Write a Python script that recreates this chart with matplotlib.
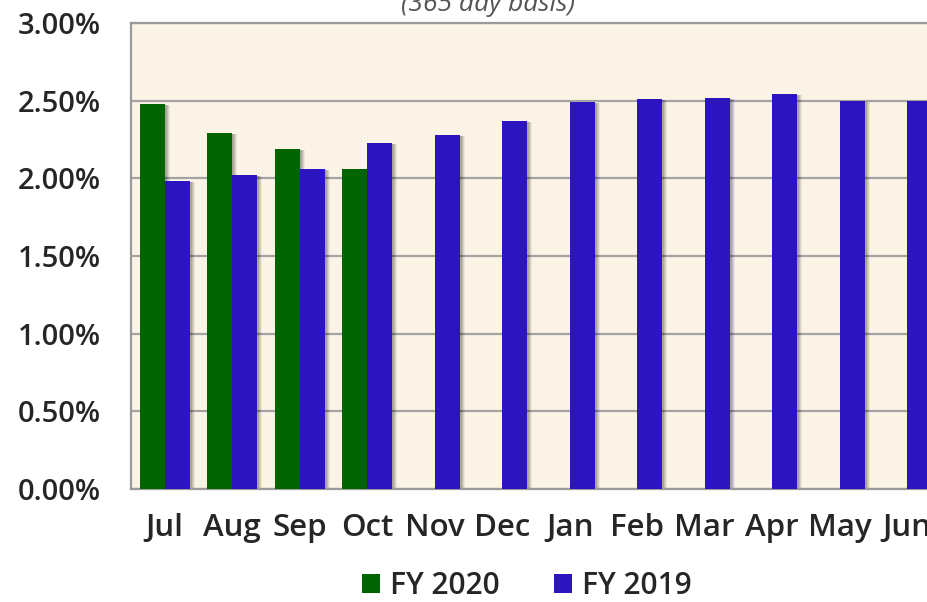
import matplotlib
matplotlib.use("Agg")
import matplotlib.pyplot as plt
import matplotlib.transforms as mtransforms
from matplotlib.patches import Patch
from matplotlib.ticker import FuncFormatter
import numpy as np

months = ["Jul", "Aug", "Sep", "Oct", "Nov", "Dec", "Jan", "Feb", "Mar", "Apr", "May", "Jun"]
fy2020 = [2.48, 2.29, 2.19, 2.06, None, None, None, None, None, None, None, None]
fy2019 = [1.98, 2.02, 2.06, 2.23, 2.28, 2.37, 2.49, 2.51, 2.52, 2.54, 2.50, 2.50]
yticks = [0.0, 0.5, 1.0, 1.5, 2.0, 2.5, 3.0]
subtitle = "(365 day basis)"
series_names = ["FY 2020", "FY 2019"]

GREEN = "#006400"
BLUE = "#2C14BE"
BG = "#FBF4E6"
TXT = "#262626"

plt.rcParams['font.family'] = ['Open Sans', 'DejaVu Sans']

W, H, DPI = 928, 602, 100
fig = plt.figure(figsize=(W / DPI, H / DPI), dpi=DPI)
# axes extends past the right edge (chart is cropped)
left, right, top, bottom = 131, 941, 23, 489
ax = fig.add_axes([left / W, 1 - bottom / H, (right - left) / W, (bottom - top) / H])
ax.set_facecolor(BG)

x = np.arange(len(months))
bw = 0.37
g_x = [xi - bw / 2 for xi, v in zip(x, fy2020) if v is not None]
g_v = [v for v in fy2020 if v is not None]
b_x = x + bw / 2

# soft drop shadows
for dx, a in [(5, 0.06), (4, 0.08), (3, 0.10), (2, 0.12)]:
    off = mtransforms.ScaledTranslation(dx / DPI, -1 / DPI, fig.dpi_scale_trans)
    tr = ax.transData + off
    ax.bar(g_x, g_v, width=bw, color="black", alpha=a, transform=tr, zorder=2, linewidth=0)
    ax.bar(b_x, fy2019, width=bw, color="black", alpha=a, transform=tr, zorder=2, linewidth=0)

ax.bar(g_x, g_v, width=bw, color=GREEN, zorder=3, linewidth=0)
ax.bar(b_x, fy2019, width=bw, color=BLUE, zorder=3, linewidth=0)

ax.set_xlim(-0.5, len(months) - 0.5)
ax.set_ylim(0, 3.0)
ax.set_yticks(yticks)
ax.yaxis.set_major_formatter(FuncFormatter(lambda v, p: f"{v:.2f}%"))
ax.set_xticks(x)
ax.set_xticklabels(months)
ax.grid(axis="y", color="#A3A3A3", linewidth=1.6, zorder=1)
ax.set_axisbelow(True)
for s in ax.spines.values():
    s.set_color("#9A9A9A")
    s.set_linewidth(1.6)
ax.tick_params(axis="both", length=0, colors=TXT)
ax.tick_params(axis="y", pad=22, labelsize=21)
ax.tick_params(axis="x", pad=17.5, labelsize=22.5)
for lab in ax.get_yticklabels() + ax.get_xticklabels():
    lab.set_fontweight("semibold")
    lab.set_color(TXT)

fig.text(488 / W, 1 - 11 / H, subtitle, ha="center", va="baseline",
         fontsize=19, style="italic", color="#555555")

handles = [Patch(facecolor=GREEN, edgecolor="none"), Patch(facecolor=BLUE, edgecolor="none")]
leg = fig.legend(handles, series_names, loc="center", bbox_to_anchor=(527 / W, 1 - 586 / H),
                 ncol=2, frameon=False, handlelength=0.6, handleheight=0.6,
                 handletextpad=0.35, columnspacing=1.8, borderpad=0,
                 prop={"size": 21.5, "weight": "semibold"})
for t in leg.get_texts():
    t.set_color(TXT)

fig.savefig("out.png", dpi=DPI)
